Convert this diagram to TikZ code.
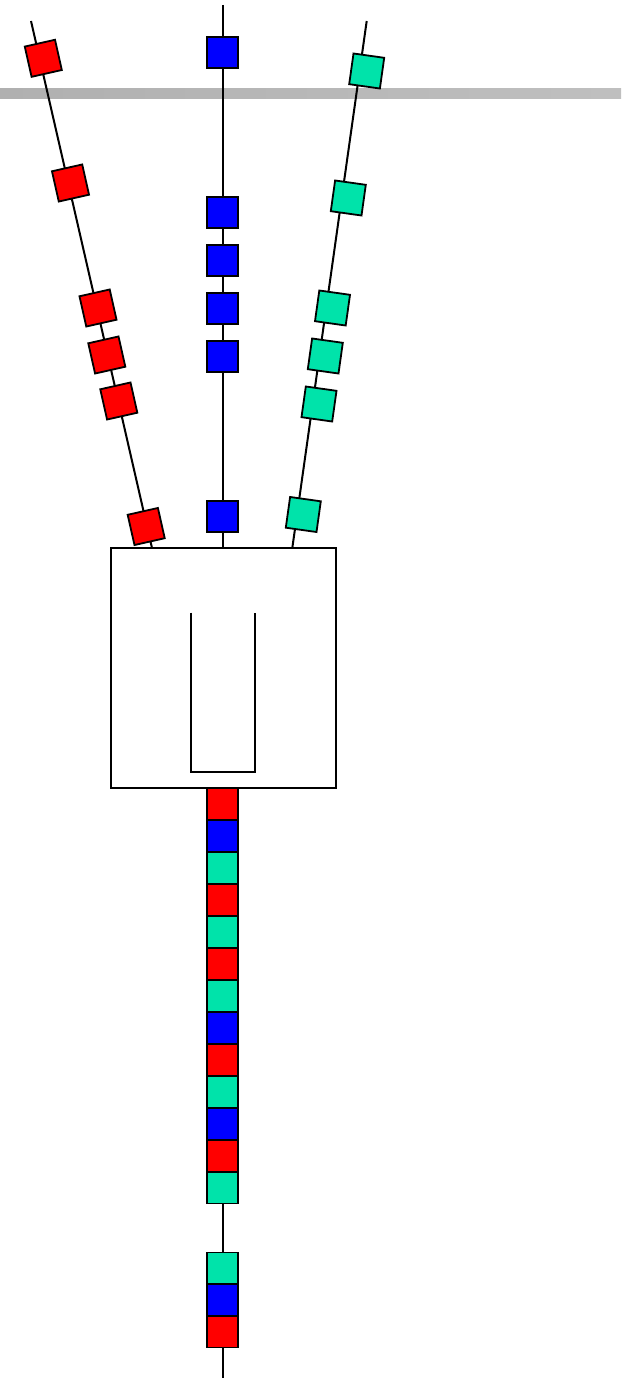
\documentclass[tikz,border=0pt]{standalone}
\usepackage{tikz}
\usetikzlibrary{calc}

\definecolor{cubered}{RGB}{255,0,0}
\definecolor{cubeblue}{RGB}{0,0,255}
\definecolor{cubegreen}{RGB}{0,227,170}

\begin{document}
\begin{tikzpicture}[
    x=1pt, y=-1pt, line width=2pt, node distance=32pt,
    cube/.style={draw, line width=1.8pt, minimum size=31pt, inner sep=0pt},
    red_cube/.style={cube, fill=cubered, rotate=12.7},
    blue_cube/.style={cube, fill=cubeblue},
    green_cube/.style={cube, fill=cubegreen, rotate=-8},
    red_flat/.style={cube, fill=cubered},
    green_flat/.style={cube, fill=cubegreen}
]
\useasboundingbox (0,0) rectangle (621,1378);

\shade[left color=black!31, right color=black!25] (0,88.3) rectangle (621,99);

\node (gate) [draw, minimum width=224.5pt, minimum height=239.5pt, inner sep=0pt] at (223.3,668) {};
\draw (191,612.7) -- (191,772.3) -- (255,772.3) -- (255,612.7);

\coordinate (red_start) at (31,21);
\coordinate (red_entry) at (152,548);
\coordinate (blue_start) at (222.5,5);
\coordinate (blue_entry) at (222.5,548);
\coordinate (green_start) at (366.7,21);
\coordinate (green_entry) at (292.3,548);
\coordinate (exit_start) at (222.5,788);
\coordinate (exit_end) at (222.5,1378);

\draw (red_start) -- (red_entry);
\draw (blue_start) -- (blue_entry);
\draw (green_start) -- (green_entry);
\draw (exit_start) -- (exit_end);

\node (red_1) [red_cube] at (43.3,58.3) {};
\node (red_2) [red_cube] at (70.5,183) {};
\node (red_3) [red_cube] at (98,308) {};
\node (red_4) [red_cube] at (106.8,355) {};
\node (red_5) [red_cube] at (118.8,401) {};
\node (red_6) [red_cube] at (146.2,526.5) {};

\node (blue_1) [blue_cube] at (222.5,52.7) {};
\node (blue_2) [blue_cube] at (222.5,212.5) {};
\node (blue_3) [blue_cube] at (222.5,260.5) {};
\node (blue_4) [blue_cube] at (222.5,308.5) {};
\node (blue_5) [blue_cube] at (222.5,356.5) {};
\node (blue_6) [blue_cube] at (222.5,516.5) {};

\node (green_1) [green_cube] at (366.7,71) {};
\node (green_2) [green_cube] at (348.3,198) {};
\node (green_3) [green_cube] at (332.5,308) {};
\node (green_4) [green_cube] at (325.3,356) {};
\node (green_5) [green_cube] at (319,404) {};
\node (green_6) [green_cube] at (303.3,514.5) {};

\node (out_1) [red_flat] at (222.5,804) {};
\node (out_2) [blue_cube, below of=out_1] {};
\node (out_3) [green_flat, below of=out_2] {};
\node (out_4) [red_flat, below of=out_3] {};
\node (out_5) [green_flat, below of=out_4] {};
\node (out_6) [red_flat, below of=out_5] {};
\node (out_7) [green_flat, below of=out_6] {};
\node (out_8) [blue_cube, below of=out_7] {};
\node (out_9) [red_flat, below of=out_8] {};
\node (out_10) [green_flat, below of=out_9] {};
\node (out_11) [blue_cube, below of=out_10] {};
\node (out_12) [red_flat, below of=out_11] {};
\node (out_13) [green_flat, below of=out_12] {};

\node (tail_1) [green_flat] at (222.5,1268) {};
\node (tail_2) [blue_cube, below of=tail_1] {};
\node (tail_3) [red_flat, below of=tail_2] {};
\end{tikzpicture}
\end{document}
